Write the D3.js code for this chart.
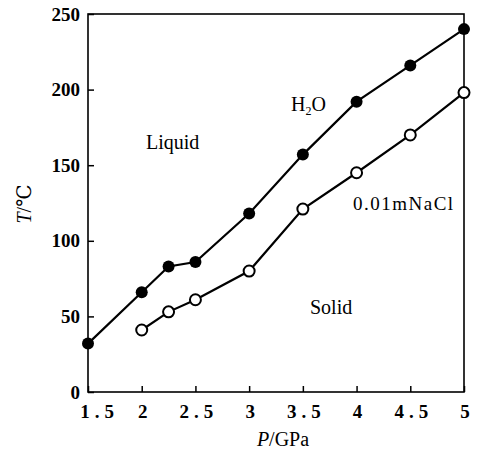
<html lang="en">
<head>
<meta charset="UTF-8">
<title>Melting curve</title>
<script src="https://cdn.jsdelivr.net/npm/d3@7"></script>
<style>
html,body {margin:0;padding:0;background:#fff;}
svg text {font-family:"Liberation Serif","DejaVu Serif",serif;fill:#000;}
</style>
</head>
<body>
<div id="chart"></div>
<script>
// data
const pressure = [1.5, 2, 2.25, 2.5, 3, 3.5, 4, 4.5, 5];
const waterT = [32, 66, 83, 86, 118, 157, 192, 216, 240];
const naclP = [2, 2.25, 2.5, 3, 3.5, 4, 4.5, 5];
const naclT = [41, 53, 61, 80, 121, 145, 170, 198];
const xTicks = [1.5, 2, 2.5, 3, 3.5, 4, 4.5, 5];
const yTicks = [0, 50, 100, 150, 200, 250];

const W = 477, H = 454;
const m = {left: 88, right: 13, top: 14, bottom: 62};

const svg = d3.select('#chart').append('svg')
	.attr('width', W)
	.attr('height', H);

const x = d3.scaleLinear().domain([1.5, 5]).range([m.left, W - m.right]);
const y = d3.scaleLinear().domain([0, 250]).range([H - m.bottom, m.top]);

// frame
svg.append('rect')
	.attr('x', x(1.5)).attr('y', y(250))
	.attr('width', x(5) - x(1.5)).attr('height', y(0) - y(250))
	.attr('fill', 'none').attr('stroke', '#000').attr('stroke-width', 1.6);

// x axis, ticks pointing inward
const gx = svg.append('g')
	.attr('transform', 'translate(0,' + y(0) + ')')
	.call(d3.axisBottom(x).tickValues(xTicks).tickSize(-6).tickPadding(13)
		.tickFormat(d => d));
gx.select('.domain').remove();
gx.selectAll('line').attr('stroke', '#000').attr('stroke-width', 1.5);
gx.selectAll('text')
	.attr('font-size', 19).attr('font-weight', 'bold')
	.style('letter-spacing', '5px')
	.attr('dx', d => d === 1.5 ? 11 : 3);

// y axis
const gy = svg.append('g')
	.attr('transform', 'translate(' + x(1.5) + ',0)')
	.call(d3.axisLeft(y).tickValues(yTicks).tickSize(-6).tickPadding(8));
gy.select('.domain').remove();
gy.selectAll('line').attr('stroke', '#000').attr('stroke-width', 1.5);
gy.selectAll('text').attr('font-size', 19).attr('font-weight', 'bold');

// axis titles
const xt = svg.append('text')
	.attr('x', 283).attr('y', 446)
	.attr('text-anchor', 'middle').attr('font-size', 20);
xt.append('tspan').attr('font-style', 'italic').text('P');
xt.append('tspan').text('/GPa');

const yt = svg.append('text')
	.attr('transform', 'translate(31,204) rotate(-90)')
	.attr('text-anchor', 'middle').attr('font-size', 20);
yt.append('tspan').attr('font-style', 'italic').text('T');
yt.append('tspan').text('/℃');

const line = d3.line().x(d => x(d[0])).y(d => y(d[1]));
const water = pressure.map((p, i) => [p, waterT[i]]);
const nacl = naclP.map((p, i) => [p, naclT[i]]);

svg.append('path').datum(water).attr('d', line)
	.attr('fill', 'none').attr('stroke', '#000').attr('stroke-width', 2.2);
svg.append('path').datum(nacl).attr('d', line)
	.attr('fill', 'none').attr('stroke', '#000').attr('stroke-width', 2.2);

svg.selectAll('.w').data(water).enter().append('circle')
	.attr('cx', d => x(d[0])).attr('cy', d => y(d[1])).attr('r', 6)
	.attr('fill', '#000');
svg.selectAll('.n').data(nacl).enter().append('circle')
	.attr('cx', d => x(d[0])).attr('cy', d => y(d[1])).attr('r', 5.5)
	.attr('fill', '#fff').attr('stroke', '#000').attr('stroke-width', 2);

// region labels
svg.append('text').attr('x', 146).attr('y', 149).attr('font-size', 20).text('Liquid');
svg.append('text').attr('x', 310).attr('y', 314).attr('font-size', 20).text('Solid');
const h2o = svg.append('text').attr('x', 291).attr('y', 111).attr('font-size', 20);
h2o.append('tspan').text('H');
h2o.append('tspan').attr('font-size', 12).attr('dy', 4).text('2');
h2o.append('tspan').attr('dy', -4).text('O');
svg.append('text').attr('x', 353).attr('y', 210).attr('font-size', 19)
	.style('letter-spacing', '1.5px').text('0.01mNaCl');
</script>
</body>
</html>
